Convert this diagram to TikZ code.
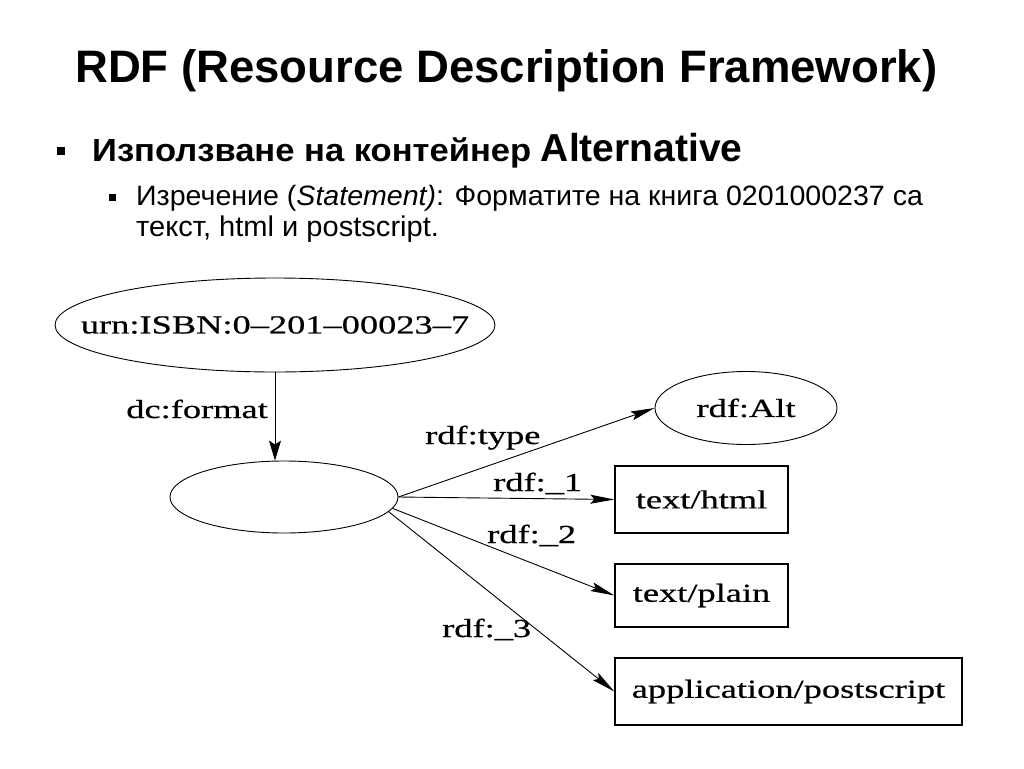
\documentclass[tikz,border=0pt]{standalone}
\usepackage{fontspec}
\setmainfont{Liberation Sans}
\newfontfamily\bodyfont[FakeStretch=1.08]{Liberation Sans}
\newfontfamily\itemfont[FakeStretch=1.02]{Liberation Sans}
\newfontfamily\graphfont[FakeStretch=1.4,FakeBold=0.6]{Liberation Serif}
\usetikzlibrary{arrows.meta,shapes.geometric}
\newcommand{\graphsize}{\graphfont\fontsize{26}{30}\selectfont}

\begin{document}
\begin{tikzpicture}[x=1pt,y=-1pt,
    txt/.style={inner sep=0pt,anchor=base west},
    lbl/.style={txt,font=\graphsize},
    res/.style={draw,ellipse,line width=0.9pt,inner sep=0pt,font=\graphsize},
    lit/.style={draw,rectangle,line width=1.3pt,inner sep=0pt,font=\graphsize},
    prop/.style={draw,line width=0.9pt,-{Stealth[length=24pt,width=9pt,inset=4pt]}},
    sq/.style={fill,inner sep=0pt,minimum size=#1}]
    \useasboundingbox (0,0) rectangle (1024,768);
    % slide text
    \node[txt,font=\bfseries\fontsize{45.5}{52}\selectfont] (title) at (75,82) {RDF (Resource Description Framework)};
    \node[sq=8pt] (b1) at (61,151) {};
    \node[txt,font=\bodyfont\bfseries\fontsize{32}{38}\selectfont] (item1) at (92,161) {Използване на контейнер {\normalfont\bfseries\fontsize{39}{44}\selectfont Alternative}};
    \node[sq=7pt] (b2) at (112,197) {};
    \node[txt,font=\itemfont\fontsize{28}{33}\selectfont] (item2) at (136,205) {Изречение (\textit{Statement)}: Форматите на книга 0201000237 са};
    \node[txt,font=\itemfont\fontsize{28.5}{33}\selectfont] (item2b) at (136,236) {текст, html и postscript.};
    % graph
    \node[res,inner xsep=-40pt,minimum width=440pt,minimum height=94pt] (isbn) at (275,325) {urn:ISBN:0–201–00023–7};
    \node[res,minimum width=228pt,minimum height=72pt] (bag) at (284,497) {};
    \node[res,minimum width=182pt,minimum height=73pt] (alt) at (746,408) {rdf:Alt};
    \node[lit,minimum width=173pt,minimum height=67pt] (html) at (701.5,499.5) {text/html};
    \node[lit,minimum width=173pt,minimum height=63pt] (plain) at (701.5,595.5) {text/plain};
    \node[lit,minimum width=347pt,minimum height=67pt] (ps) at (788.5,691.5) {application/postscript};
    \draw[prop,-{Stealth[length=20pt,width=12pt,inset=4pt]}] (isbn.south) -- (isbn.south |- bag.north);
    \draw[prop] (bag.east) -- (alt.west);
    \draw[prop] (bag.east) -- (html.west);
    \draw[prop] (bag.-6) -- (plain.west);
    \draw[prop] (bag.-8) -- (ps.west);
    \node[lbl,anchor=base east] (fmt) at (268,418) {dc:format};
    \node[lbl] (ltype) at (425,444) {rdf:type};
    \node[lbl] (l1) at (493,491) {rdf:\_1};
    \node[lbl] (l2) at (487,543) {rdf:\_2};
    \node[lbl] (l3) at (442,637) {rdf:\_3};
\end{tikzpicture}
\end{document}
